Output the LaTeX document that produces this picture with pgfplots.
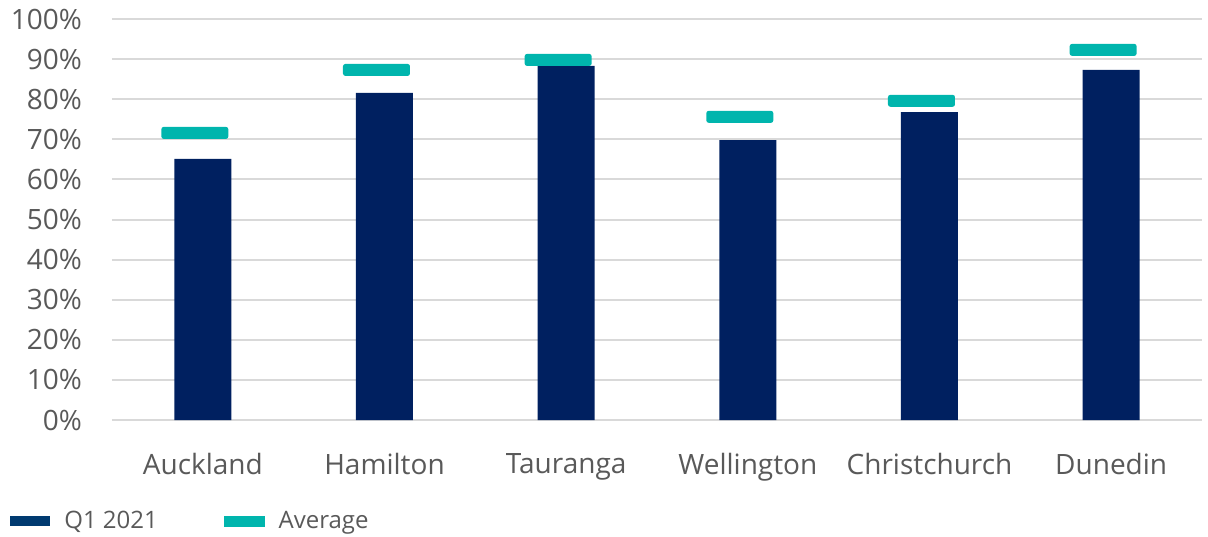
\documentclass[border=0pt]{standalone}
\usepackage{fontspec}
\setmainfont{Open Sans}
\usepackage{pgfplots}
\pgfplotsset{compat=1.18}
\definecolor{navy}{HTML}{002060}
\definecolor{legnavy}{HTML}{003A70}
\definecolor{tealc}{HTML}{00B5AD}
\definecolor{txt}{HTML}{595959}
\definecolor{gridc}{HTML}{D9D9D9}
\pgfdeclareplotmark{avgdash}{%
  \pgfsetcornersarced{\pgfpoint{1.2bp}{1.2bp}}%
  \pgfpathrectangle{\pgfpoint{-20.75bp}{-3bp}}{\pgfpoint{33.5bp}{6bp}}%
  \pgfusepath{fill}}
\begin{document}
\begin{tikzpicture}
\path[use as bounding box] (-56bp,-58.5bp) rectangle (548bp,210bp);
\begin{axis}[
  at={(0,0)}, anchor=south west,
  scale only axis, width=545bp, height=200.5bp,
  xmin=-0.5, xmax=5.5, ymin=0, ymax=100,
  ytick={0,10,...,100},
  yticklabel={\pgfmathprintnumber{\tick}\%},
  /pgf/number format/assume math mode=true,
  xtick={0,1,2,3,4,5},
  xticklabels={Auckland,Hamilton,Tauranga,Wellington,Christchurch,Dunedin},
  axis x line*=bottom, axis y line*=left,
  x axis line style={draw=gridc, line width=1bp, -},
  y axis line style={draw=none},
  ymajorgrids, major grid style={draw=gridc, line width=1bp},
  tick style={draw=none},
  ticklabel style={font=\fontsize{14bp}{16bp}\selectfont, text=txt},
  yticklabel style={anchor=east, xshift=-11.5bp},
  xticklabel style={yshift=-13bp},
  clip=false,
  legend columns=2,
  legend style={at={(axis description cs:-0.0991,-0.252)}, anchor=west, draw=none, fill=none,
    font=\fontsize{12bp}{14bp}\selectfont, text=txt,
    /tikz/every even column/.append style={column sep=31bp}},
]
\addplot[ybar, bar width=28.5bp, fill=navy, draw=none,
  legend image code/.code={\fill[legnavy] (0bp,-2.5bp) rectangle (20bp,2.5bp); \path (25bp,0);}]
  coordinates {(0,65.1) (1,81.6) (2,88.3) (3,69.8) (4,76.8) (5,87.3)};
\addlegendentry{Q1 2021}
\addplot[only marks, mark=avgdash, color=tealc,
  legend image code/.code={\fill[tealc] (0bp,-2.5bp) rectangle (20bp,2.5bp); \path (25bp,0);}]
  coordinates {(0,71.6) (1,87.3) (2,89.8) (3,75.6) (4,79.6) (5,92.3)};
\addlegendentry{Average}
\end{axis}
\end{tikzpicture}
\end{document}
